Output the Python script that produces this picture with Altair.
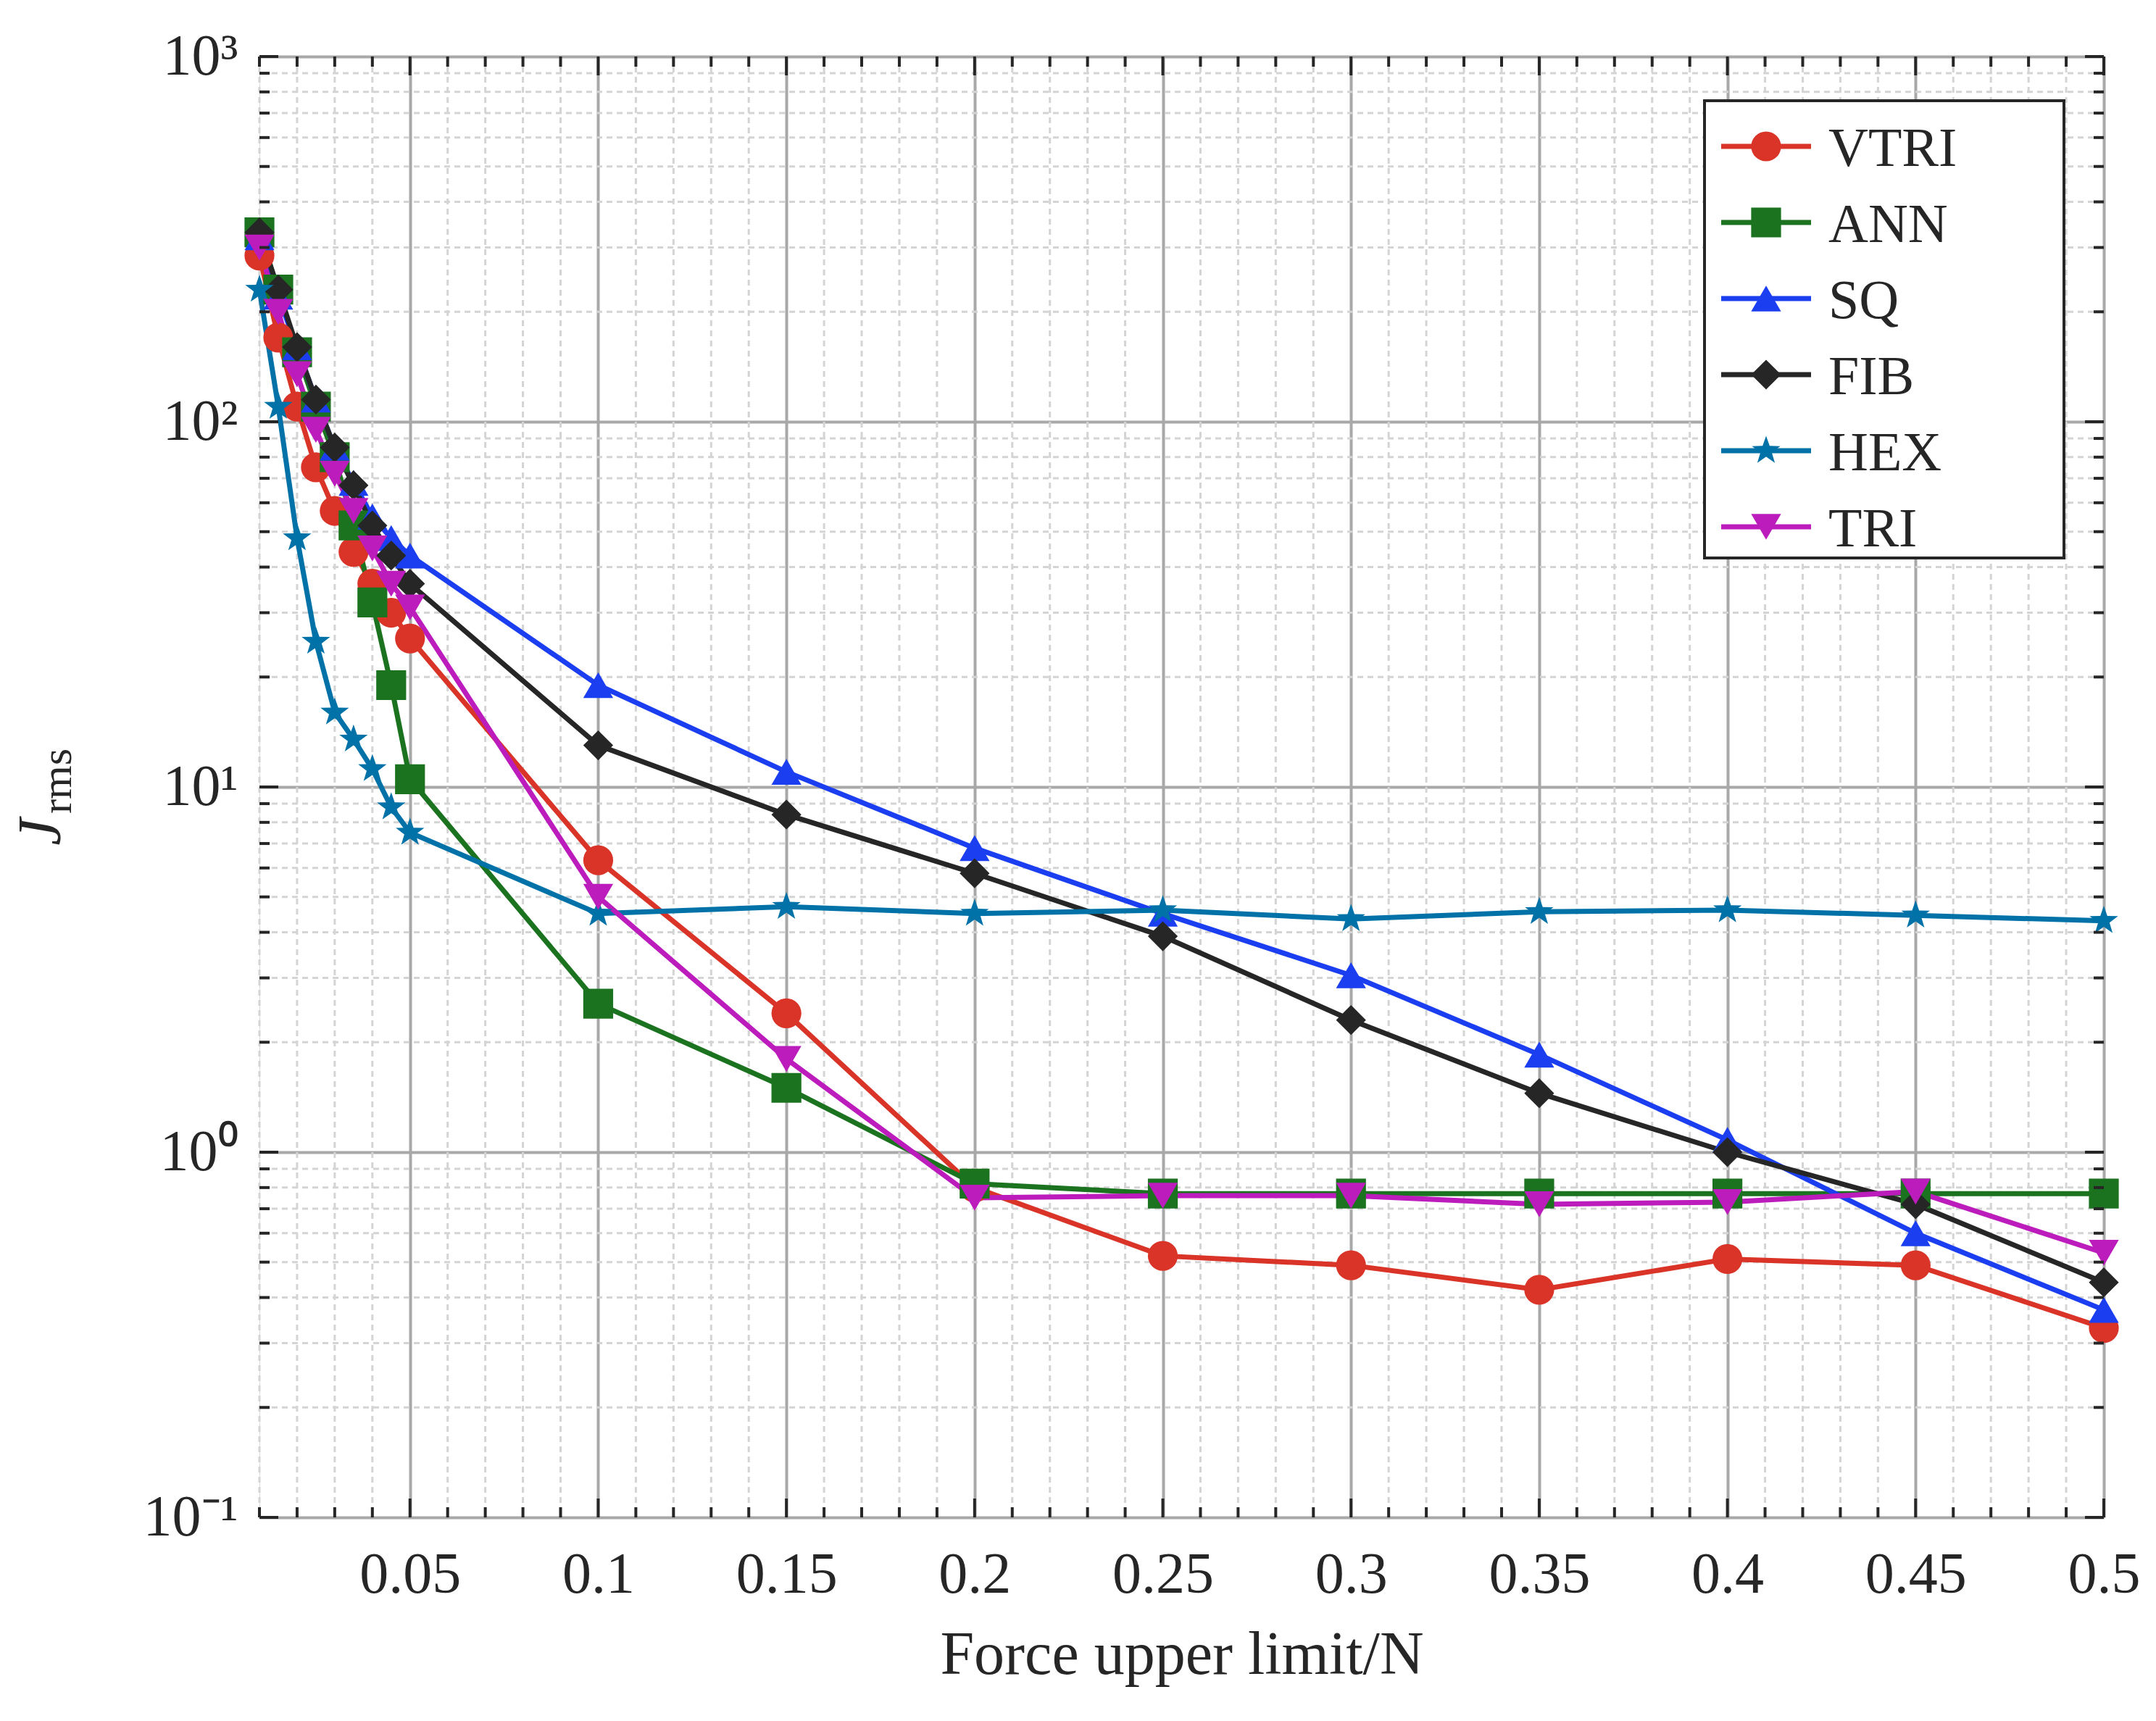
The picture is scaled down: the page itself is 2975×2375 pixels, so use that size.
import math
import altair as alt
import pandas as pd

force = [0.01, 0.015, 0.02, 0.025, 0.03, 0.035, 0.04, 0.045, 0.05,
         0.1, 0.15, 0.2, 0.25, 0.3, 0.35, 0.4, 0.45, 0.5]

vtri = [285, 170, 110, 75, 57, 44, 36, 30, 25.5, 6.3, 2.4, 0.8, 0.52, 0.49, 0.42, 0.51, 0.49, 0.33]
ann = [330, 230, 155, 110, 80, 52, 32, 19, 10.5, 2.55, 1.5, 0.82, 0.77, 0.77, 0.77, 0.77, 0.77, 0.77]
sq = [320, 220, 160, 115, 85, 68, 55, 48, 43, 19, 11, 6.8, 4.5, 3.05, 1.85, 1.08, 0.6, 0.37]
fib = [330, 230, 160, 115, 85, 67, 52, 43, 36, 13, 8.4, 5.8, 3.9, 2.3, 1.45, 1.0, 0.72, 0.44]
hexa = [230, 110, 48, 25, 16, 13.5, 11.2, 8.8, 7.5, 4.5, 4.7, 4.5, 4.6, 4.35, 4.55, 4.6, 4.45, 4.3]
tri = [300, 200, 135, 95, 72, 57, 45, 36, 31, 5, 1.8, 0.75, 0.76, 0.76, 0.72, 0.73, 0.78, 0.53]

names = ["VTRI", "ANN", "SQ", "FIB", "HEX", "TRI"]
series = [vtri, ann, sq, fib, hexa, tri]
colors = ["#D93427", "#1B7320", "#1A3EF0", "#262626", "#0072A8", "#BD1CBD"]

# 5-point star path for HEX markers
pts = []
for k in range(10):
    r = 1.0 if k % 2 == 0 else 0.4
    a = -math.pi / 2 + k * math.pi / 5
    pts.append(f"{r * math.cos(a):.3f},{r * math.sin(a):.3f}")
STAR = "M" + "L".join(pts) + "Z"
shapes = ["circle", "square", "triangle-up", "diamond", STAR, "triangle-down"]

W, H = 2545, 2016
FONT = "Liberation Serif"
GRID = "#A8A8A8"
MINOR = "#D4D4D4"
MSIZE = 1700

df = pd.DataFrame([{"f": f, "J": v, "s": n}
                   for n, vals in zip(names, series) for f, v in zip(force, vals)])

xs = alt.Scale(domain=[0.01, 0.5], nice=False, zero=False)
ys = alt.Scale(type="log", domain=[0.1, 1000], nice=False)
cs = alt.Scale(domain=names, range=colors)
ss = alt.Scale(domain=names, range=shapes)

xmajor = [round(0.05 * i, 2) for i in range(1, 11)]
xminor = [round(0.01 * i, 2) for i in range(1, 50) if i % 5 != 0]
ymajor = [0.1, 1, 10, 100, 1000]
yminor = [m * 10.0 ** e for e in range(-1, 3) for m in range(2, 10)]

gx = pd.DataFrame({"f": xminor})
gy = pd.DataFrame({"J": yminor})
mx = pd.DataFrame({"f": xmajor})
my = pd.DataFrame({"J": ymajor})

minor_x = alt.Chart(gx).mark_rule(color=MINOR, strokeWidth=3, strokeDash=[8, 6]).encode(
    x=alt.X("f:Q", scale=xs))
minor_y = alt.Chart(gy).mark_rule(color=MINOR, strokeWidth=3, strokeDash=[8, 6]).encode(
    y=alt.Y("J:Q", scale=ys))


def xticks(data, length):
    bot = alt.Chart(data).mark_rule(color="#262626", strokeWidth=4).encode(
        x=alt.X("f:Q", scale=xs), y=alt.value(H), y2=alt.value(H - length))
    top = alt.Chart(data).mark_rule(color="#262626", strokeWidth=4).encode(
        x=alt.X("f:Q", scale=xs), y=alt.value(0), y2=alt.value(length))
    return bot + top


def yticks(data, length):
    left = alt.Chart(data).mark_rule(color="#262626", strokeWidth=4).encode(
        y=alt.Y("J:Q", scale=ys), x=alt.value(0), x2=alt.value(length))
    right = alt.Chart(data).mark_rule(color="#262626", strokeWidth=4).encode(
        y=alt.Y("J:Q", scale=ys), x=alt.value(W), x2=alt.value(W - length))
    return left + right


ylabel_expr = ("datum.value >= 999 ? '10³' : datum.value >= 99 ? '10²' : "
               "datum.value >= 9 ? '10¹' : datum.value >= 0.9 ? '10⁰' : '10⁻¹'")

lines = alt.Chart(df).mark_line(strokeWidth=7).encode(
    x=alt.X("f:Q", scale=xs,
            axis=alt.Axis(values=xmajor, labelExpr="format(datum.value, '.2~f')",
                          title="Force upper limit/N", grid=True, gridColor=GRID,
                          gridWidth=4, tickSize=0, domain=False, labelFontSize=80,
                          labelPadding=40, titleFontSize=84, titlePadding=30,
                          titleFontWeight="normal", labelColor="#262626",
                          titleColor="#262626", labelFlush=False)),
    y=alt.Y("J:Q", scale=ys,
            axis=alt.Axis(values=ymajor, labelExpr=ylabel_expr, title=None, grid=True,
                          gridColor=GRID, gridWidth=4, tickSize=0, domain=False,
                          labelFontSize=80, labelPadding=30, labelColor="#262626")),
    color=alt.Color("s:N", scale=cs, legend=None),
    detail="s:N",
)
points = alt.Chart(df).mark_point(filled=True, opacity=1).encode(
    x=alt.X("f:Q", scale=xs),
    y=alt.Y("J:Q", scale=ys),
    color=alt.Color("s:N", scale=cs, legend=None),
    shape=alt.Shape("s:N", scale=ss, legend=None),
    size=alt.value(MSIZE),
)

ytitle = alt.Chart(pd.DataFrame({"t": ["J"]})).mark_text(
    font=FONT, fontSize=84, fontStyle="italic", angle=270, color="#262626").encode(
    text="t:N", x=alt.value(-300), y=alt.value(1070))
ysub = alt.Chart(pd.DataFrame({"t": ["rms"]})).mark_text(
    font=FONT, fontSize=60, angle=270, color="#262626").encode(
    text="t:N", x=alt.value(-278), y=alt.value(1000))

# legend
LX0, LX1, LY0, LY1 = 1994, 2490, 61, 692
legend = [alt.Chart(pd.DataFrame({"a": [0]})).mark_rect(
    fill="white", stroke="#262626", strokeWidth=4).encode(
    x=alt.value(LX0), x2=alt.value(LX1), y=alt.value(LY0), y2=alt.value(LY1))]
for i, (n, c, s) in enumerate(zip(names, colors, shapes)):
    yy = 124 + 105 * i
    one = pd.DataFrame({"s": [n]})
    legend.append(alt.Chart(one).mark_rule(color=c, strokeWidth=7).encode(
        x=alt.value(2017), x2=alt.value(2141), y=alt.value(yy)))
    legend.append(alt.Chart(one).mark_point(filled=True, opacity=1,
                                            color=c, shape=s).encode(
        x=alt.value(2079), y=alt.value(yy), size=alt.value(MSIZE)))
    legend.append(alt.Chart(one).mark_text(font=FONT, fontSize=76, align="left",
                                           baseline="middle", color="#262626").encode(
        text="s:N", x=alt.value(2165), y=alt.value(yy + 4)))

chart = alt.layer(
    minor_x, minor_y, lines, points,
    xticks(gx, 14), xticks(mx, 26), yticks(gy, 14), yticks(my, 26),
    ytitle, ysub, *legend,
).properties(
    width=W, height=H, autosize=alt.AutoSizeParams(type="none"),
    padding={"left": 350, "top": 70, "right": 60, "bottom": 280},
).configure_view(stroke="#262626", strokeWidth=5).configure(
    font=FONT, background="white")

chart.save("out.html", embed_options={"renderer": "svg", "actions": False})
